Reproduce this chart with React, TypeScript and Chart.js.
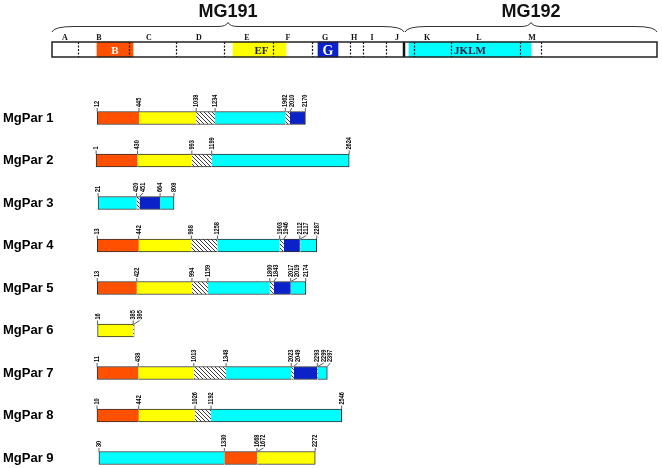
import React, { useEffect, useRef } from 'react';
import { Chart, registerables } from 'chart.js';

Chart.register(...registerables);

const W = 662;
const H = 468;

// ---------- Top gene map (schematic units along the map) ----------
const mapLength = 605;
const geneBoundary = 352;
const geneNames = ['MG191', 'MG192'];
const geneStarts = [0, 353];
const geneEnds = [352, 605];
const regionNames = ['B', 'EF', 'G', 'JKLM'];
const regionStarts = [45, 181, 266, 357];
const regionEnds = [81, 234, 286, 479];
const fragmentLetters = ['A', 'B', 'C', 'D', 'E', 'F', 'G', 'H', 'I', 'J', 'K', 'L', 'M'];
const fragmentLetterPos = [13, 47, 97, 147, 195, 236, 273, 302, 320, 345, 375, 427, 480];
const dashedPos = [26, 77, 124, 172, 221, 260, 298, 311, 334, 362, 399, 468, 489];

// ---------- MgPar constructs (amino-acid boundaries) ----------
const parNames = ['MgPar 1', 'MgPar 2', 'MgPar 3', 'MgPar 4', 'MgPar 5', 'MgPar 6', 'MgPar 7', 'MgPar 8', 'MgPar 9'];
const par1 = [12, 445, 1038, 1234, 1962, 2010, 2170];
const par1Kinds = ['B', 'EF', 'L', 'JKLM', 'L', 'G'];
const par2 = [1, 430, 993, 1199, 2624];
const par2Kinds = ['B', 'EF', 'L', 'JKLM'];
const par3 = [21, 420, 451, 664, 808];
const par3Kinds = ['JKLM', 'L', 'G', 'JKLM'];
const par4 = [13, 442, 988, 1258, 1903, 1946, 2112, 2117, 2287];
const par4Kinds = ['B', 'EF', 'L', 'JKLM', 'L', 'G', 'L', 'JKLM'];
const par5 = [13, 422, 994, 1159, 1800, 1843, 2017, 2019, 2174];
const par5Kinds = ['B', 'EF', 'L', 'JKLM', 'L', 'G', 'L', 'JKLM'];
const par6 = [16, 385, 395];
const par6Kinds = ['EF', 'L'];
const par7 = [11, 438, 1013, 1348, 2023, 2049, 2293, 2299, 2397];
const par7Kinds = ['B', 'EF', 'L', 'JKLM', 'L', 'G', 'L', 'JKLM'];
const par8 = [10, 442, 1026, 1192, 2546];
const par8Kinds = ['B', 'EF', 'L', 'JKLM'];
const par9 = [30, 1330, 1668, 1672, 2272];
const par9Kinds = ['JKLM', 'B', 'L', 'EF'];

const parBounds = [par1, par2, par3, par4, par5, par6, par7, par8, par9];
const parKinds = [par1Kinds, par2Kinds, par3Kinds, par4Kinds, par5Kinds, par6Kinds, par7Kinds, par8Kinds, par9Kinds];

const ORANGE = '#FF5000';
const YELLOW = '#FFFF00';
const CYAN = '#00FFFF';
const BLUE = '#0A22C8';

const SANS = '"Liberation Sans", Arial, sans-serif';
const SERIF = '"Liberation Serif", "Times New Roman", serif';

function makeHatch(): CanvasPattern | string {
  const tile = document.createElement('canvas');
  tile.width = 4;
  tile.height = 4;
  const c = tile.getContext('2d');
  if (!c) return '#ccc';
  c.fillStyle = '#ffffff';
  c.fillRect(0, 0, 4, 4);
  c.strokeStyle = '#3a3a3a';
  c.lineWidth = 1;
  c.beginPath();
  c.moveTo(-1, -1); c.lineTo(5, 5);
  c.moveTo(-1, 3); c.lineTo(1, 5);
  c.moveTo(3, -1); c.lineTo(5, 1);
  c.stroke();
  const p = c.createPattern(tile, 'repeat');
  return p || '#ccc';
}

export default function App() {
  const topRef = useRef<HTMLCanvasElement>(null);
  const botRef = useRef<HTMLCanvasElement>(null);

  useEffect(() => {
    const hatch = makeHatch();
    const fillFor = (k: string) =>
      k === 'B' ? ORANGE : k === 'EF' ? YELLOW : k === 'G' ? BLUE : k === 'JKLM' ? CYAN : hatch;

    // ---------- top map chart ----------
    const mapPlugin = {
      id: 'mapDecor',
      afterDatasetsDraw(chart: any) {
        const { ctx, chartArea } = chart;
        const xs = chart.scales.x;
        const top = chartArea.top;
        const bottom = chartArea.bottom;
        ctx.save();
        // dashed fragment borders
        ctx.strokeStyle = '#111';
        ctx.lineWidth = 1.2;
        ctx.setLineDash([2, 1.5]);
        dashedPos.forEach((p) => {
          const x = Math.round(xs.getPixelForValue(p)) + 0.5;
          ctx.beginPath();
          ctx.moveTo(x, top);
          ctx.lineTo(x, bottom);
          ctx.stroke();
        });
        ctx.setLineDash([]);
        // gene boundary
        ctx.lineWidth = 2.5;
        const gb = xs.getPixelForValue(geneBoundary);
        ctx.beginPath();
        ctx.moveTo(gb, top);
        ctx.lineTo(gb, bottom);
        ctx.stroke();
        // outline
        ctx.lineWidth = 1.5;
        ctx.strokeStyle = '#222';
        ctx.strokeRect(chartArea.left, top, chartArea.right - chartArea.left, bottom - top);
        // region labels
        ctx.textAlign = 'center';
        ctx.textBaseline = 'alphabetic';
        regionNames.forEach((n, i) => {
          const xc = (xs.getPixelForValue(regionStarts[i]) + xs.getPixelForValue(regionEnds[i])) / 2;
          const isWhite = n === 'B' || n === 'G';
          ctx.fillStyle = isWhite ? '#ffffff' : '#1a1a40';
          ctx.font = `bold ${n === 'G' ? 14 : 11}px ${SERIF}`;
          ctx.fillText(n, xc + (n === 'EF' ? 2 : 0), n === 'G' ? 55 : 54);
        });
        // fragment letters
        ctx.fillStyle = '#111';
        ctx.font = `bold 8px ${SERIF}`;
        fragmentLetters.forEach((l, i) => {
          ctx.fillText(l, xs.getPixelForValue(fragmentLetterPos[i]), 40);
        });
        // braces + gene names
        ctx.strokeStyle = '#333';
        ctx.lineWidth = 1;
        geneNames.forEach((g, i) => {
          const x1 = xs.getPixelForValue(geneStarts[i]);
          const x2 = xs.getPixelForValue(geneEnds[i]);
          const xm = (x1 + x2) / 2;
          const yb = 32;
          const yf = 26.5;
          const yp = 22.5;
          ctx.beginPath();
          ctx.moveTo(x1, yb);
          ctx.quadraticCurveTo(x1 + 2, yf, x1 + 22, yf);
          ctx.lineTo(xm - 10, yf);
          ctx.quadraticCurveTo(xm - 2, yf, xm, yp);
          ctx.quadraticCurveTo(xm + 2, yf, xm + 10, yf);
          ctx.lineTo(x2 - 22, yf);
          ctx.quadraticCurveTo(x2 - 2, yf, x2, yb);
          ctx.stroke();
          ctx.fillStyle = '#111';
          ctx.font = `bold 18px ${SANS}`;
          ctx.fillText(g, xm, 17);
        });
        ctx.restore();
      },
    };

    const topDatasets: any[] = regionNames.map((n, i) => ({
      label: n,
      data: [[regionStarts[i], regionEnds[i]]],
      backgroundColor: fillFor(n),
      borderWidth: 0,
      grouped: false,
      barThickness: 15,
      clip: false,
      order: 0,
    }));
    topDatasets.push({
      label: 'map',
      data: [[0, mapLength]],
      backgroundColor: '#ffffff',
      borderWidth: 0,
      grouped: false,
      barThickness: 15,
      clip: false,
      order: 1,
    });

    const topChart = new Chart(topRef.current as HTMLCanvasElement, {
      type: 'bar',
      data: { labels: ['map'], datasets: topDatasets },
      options: {
        indexAxis: 'y',
        responsive: false,
        animation: false,
        layout: { padding: { left: 52, right: W - 657, top: 42, bottom: H - 57 } },
        scales: {
          x: { type: 'linear', min: 0, max: mapLength, display: false },
          y: { display: false },
        },
        plugins: { legend: { display: false }, tooltip: { enabled: false } },
      } as any,
      plugins: [mapPlugin],
    });

    // ---------- bottom constructs chart ----------
    const maxSeg = Math.max(...parKinds.map((k) => k.length));
    const botDatasets: any[] = [];
    for (let j = 0; j < maxSeg; j++) {
      botDatasets.push({
        label: 'seg' + j,
        data: parBounds.map((b) => (j + 1 < b.length ? [b[j], b[j + 1]] : null)),
        backgroundColor: (c: any) => {
          const k = parKinds[c.dataIndex] ? parKinds[c.dataIndex][j] : undefined;
          return k ? fillFor(k) : 'rgba(0,0,0,0)';
        },
        borderColor: '#2e2e2e',
        borderWidth: (c: any) => {
          const kinds = parKinds[c.dataIndex] || [];
          return { top: 1, bottom: 1, left: j === 0 ? 1 : 0, right: j === kinds.length - 1 ? 1 : 0 };
        },
        borderSkipped: false,
        grouped: false,
        barThickness: 13,
        clip: false,
      });
    }

    const labelPlugin = {
      id: 'boundaryLabels',
      afterDatasetsDraw(chart: any) {
        const { ctx } = chart;
        const xs = chart.scales.x;
        const ys = chart.scales.y;
        ctx.save();
        parBounds.forEach((bounds, i) => {
          const yc = ys.getPixelForValue(i);
          const top = yc - 6.5;
          let prev = -Infinity;
          bounds.forEach((v) => {
            const px = xs.getPixelForValue(v);
            const lx = Math.max(px, prev + 6.5);
            prev = lx;
            ctx.strokeStyle = '#333';
            ctx.lineWidth = 0.8;
            ctx.beginPath();
            ctx.moveTo(px, top);
            ctx.lineTo(lx, top - 3.5);
            ctx.stroke();
            ctx.save();
            ctx.translate(lx, top - 4.5);
            ctx.rotate(-Math.PI / 2);
            ctx.scale(0.8, 1);
            ctx.font = `bold 7px ${SANS}`;
            ctx.fillStyle = '#000';
            ctx.textAlign = 'left';
            ctx.textBaseline = 'middle';
            ctx.fillText(String(v), 0, 0);
            ctx.restore();
          });
        });
        ctx.restore();
      },
    };

    const botChart = new Chart(botRef.current as HTMLCanvasElement, {
      type: 'bar',
      data: { labels: parNames, datasets: botDatasets },
      options: {
        indexAxis: 'y',
        responsive: false,
        animation: false,
        layout: { padding: { left: 3, right: 85, top: 118, bottom: 10 } },
        scales: {
          x: { type: 'linear', min: 10, max: 4985, display: false },
          y: {
            type: 'category',
            offset: false,
            grid: { display: false, drawTicks: false },
            border: { display: false },
            ticks: {
              crossAlign: 'far',
              padding: 0,
              color: '#000',
              font: { family: SANS, size: 13, weight: 'bold' },
            },
            afterFit: (s: any) => {
              s.width = 94;
            },
          },
        },
        plugins: { legend: { display: false }, tooltip: { enabled: false } },
      } as any,
      plugins: [labelPlugin],
    });

    return () => {
      topChart.destroy();
      botChart.destroy();
    };
  }, []);

  return (
    <div style={{ position: 'absolute', left: 0, top: 0, width: W, height: H, background: '#fff' }}>
      <canvas ref={botRef} width={W} height={H} style={{ position: 'absolute', left: 0, top: 0 }} />
      <canvas ref={topRef} width={W} height={H} style={{ position: 'absolute', left: 0, top: 0 }} />
    </div>
  );
}
